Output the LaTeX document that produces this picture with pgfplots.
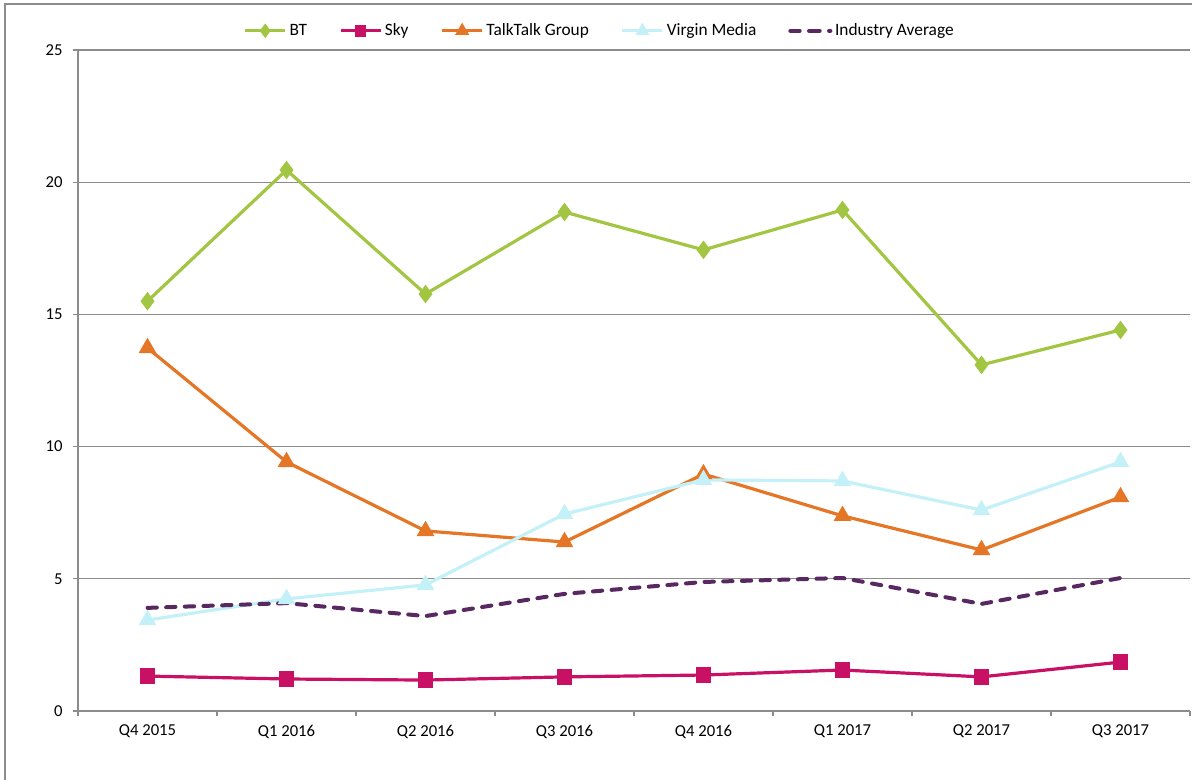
\documentclass[border=0pt]{standalone}
\usepackage{pgfplots}
\pgfplotsset{compat=1.18}
\usepackage{fontspec}
\setmainfont{Carlito}
\definecolor{cBT}{RGB}{162,198,66}
\definecolor{cSky}{RGB}{200,16,100}
\definecolor{cTT}{RGB}{228,118,38}
\definecolor{cVM}{RGB}{196,240,248}
\definecolor{cIA}{RGB}{88,40,96}
\definecolor{cGrid}{RGB}{140,140,140}
\begin{document}
\begin{tikzpicture}
\useasboundingbox (-58.5pt,-51.75pt) rectangle (835.5pt,533.25pt);
\draw[cGrid, line width=0.9pt] (-54.75pt,-60pt) -- (-54.75pt,530.25pt) -- (840pt,530.25pt);
\begin{axis}[
  at={(0pt,0pt)}, anchor=south west,
  scale only axis, width=834pt, height=495.75pt,
  xmin=-0.5, xmax=7.5, ymin=0, ymax=25,
  ytick={0,5,...,25},
  xtick={0,...,7},
  xticklabels={Q4 2015,Q1 2016,Q2 2016,Q3 2016,Q4 2016,Q1 2017,Q2 2017,Q3 2017},
  minor xtick={-0.5,0.5,...,7.5},
  major x tick style={draw=none},
  minor x tick style={cGrid, line width=0.9pt},
  y tick style={cGrid, line width=0.9pt},
  minor tick length=4pt, major tick length=4pt,
  tick align=outside,
  axis x line*=bottom, axis y line*=left,
  axis line style={cGrid, line width=0.9pt, -},
  ymajorgrids, major grid style={cGrid, line width=0.9pt},
  tick label style={font=\fontsize{12.5}{15}\selectfont, black},
  /pgf/number format/assume math mode=true,
  yticklabel style={xshift=-4pt},
  xticklabel style={yshift=-3pt},
  legend columns=5,
  legend style={at={(0.4694,1.029)}, anchor=center, draw=none, fill=none,
    font=\fontsize{13}{15}\selectfont,
    /tikz/every even column/.append style={column sep=22pt}},
  legend image code/.code={\draw[#1, mark options={scale=0.7}] (0pt,0pt) -- (15pt,0pt) plot coordinates {(15pt,0pt)} -- (30pt,0pt);},
]
\addplot[cBT, line width=2.4pt, mark=diamond*, mark size=5pt, mark options={solid}]
  coordinates {(0,15.50) (1,20.46) (2,15.77) (3,18.87) (4,17.44) (5,18.95) (6,13.09) (7,14.41)};
\addlegendentry{BT}
\addplot[cSky, line width=2.4pt, mark=square*, mark size=4.6pt, mark options={solid}]
  coordinates {(0,1.32) (1,1.21) (2,1.17) (3,1.29) (4,1.36) (5,1.55) (6,1.29) (7,1.85)};
\addlegendentry{Sky}
\addplot[cTT, line width=2.4pt, mark=triangle*, mark size=5.3pt, mark options={solid}]
  coordinates {(0,13.73) (1,9.42) (2,6.81) (3,6.39) (4,8.96) (5,7.38) (6,6.09) (7,8.09)};
\addlegendentry{TalkTalk Group}
\addplot[cVM, line width=2.4pt, mark=triangle*, mark size=5.3pt, mark options={solid}]
  coordinates {(0,3.44) (1,4.24) (2,4.77) (3,7.45) (4,8.74) (5,8.70) (6,7.60) (7,9.42)};
\addlegendentry{Virgin Media}
\addplot[cIA, line width=3pt, line cap=round, dash pattern=on 7pt off 7pt, mark=none]
  coordinates {(0,3.90) (1,4.08) (2,3.59) (3,4.43) (4,4.88) (5,5.03) (6,4.05) (7,5.03)};
\addlegendentry{Industry Average}
\end{axis}
\end{tikzpicture}
\end{document}
